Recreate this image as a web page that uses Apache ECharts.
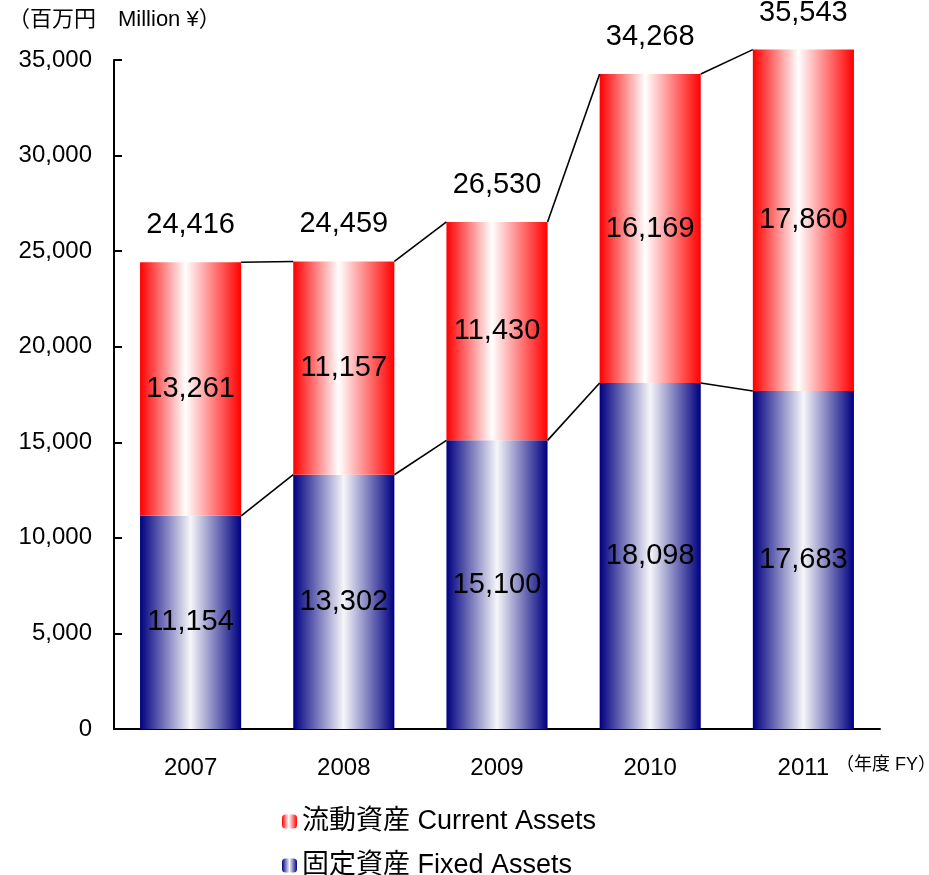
<!DOCTYPE html>
<html>
<head>
<meta charset="utf-8">
<script src="https://cdn.jsdelivr.net/npm/echarts@6/dist/echarts.min.js"></script>
<style>
html,body{margin:0;padding:0;background:#fff;}
#main{width:929px;height:875px;}
</style>
</head>
<body>
<div id="main"></div>
<script>
// data
var years = ['2007', '2008', '2009', '2010', '2011'];
var fixedAssets = [11154, 13302, 15100, 18098, 17683];
var currentAssets = [13261, 11157, 11430, 16169, 17860];
var totals = [24416, 24459, 26530, 34268, 35543];
var yTicks = [0, 5000, 10000, 15000, 20000, 25000, 30000, 35000];

var FONT = '"Liberation Sans", Arial, "Noto Sans CJK JP", sans-serif';
var BAR_RATIO = 0.66;

function fmt(v) {
    return v.toString().replace(/\B(?=(\d{3})+(?!\d))/g, ',');
}

var redFill = new echarts.graphic.LinearGradient(0, 0, 1, 0, [
    { offset: 0, color: '#ff0000' },
    { offset: 0.45, color: '#ffffff' },
    { offset: 1, color: '#ff0000' }
]);
var blueFill = new echarts.graphic.LinearGradient(0, 0, 1, 0, [
    { offset: 0, color: '#000080' },
    { offset: 0.5, color: '#f6f6f9' },
    { offset: 1, color: '#000080' }
]);

var legendText = { fontSize: 27, color: '#000', fontFamily: FONT };

var chart = echarts.init(document.getElementById('main'), null, { renderer: 'canvas' });

chart.setOption({
    animation: false,
    textStyle: { fontFamily: FONT },
    grid: { left: 114, right: 49, top: 60, bottom: 146, containLabel: false },
    legend: [
        {
            left: 277, top: 803, itemWidth: 15, itemHeight: 14,
            data: ['流動資産 Current Assets'], textStyle: legendText
        },
        {
            left: 277, top: 847, itemWidth: 15, itemHeight: 14,
            data: ['固定資産 Fixed Assets'], textStyle: legendText
        }
    ],
    graphic: [
        {
            type: 'text', left: 8, top: 9,
            style: { text: '（百万円　Million ¥）', font: '22px ' + FONT, fill: '#000' }
        },
        {
            type: 'text', left: 836, top: 756,
            style: { text: '（年度 FY）', font: '18px ' + FONT, fill: '#000' }
        }
    ],
    xAxis: {
        type: 'category',
        data: years,
        axisLine: { lineStyle: { color: '#000', width: 2 } },
        axisTick: { inside: true, length: 8, lineStyle: { color: '#000', width: 2 } },
        axisLabel: { color: '#000', fontSize: 24, margin: 27, fontFamily: FONT }
    },
    yAxis: {
        type: 'value',
        min: 0,
        max: 35000,
        interval: 5000,
        splitLine: { show: false },
        axisLine: { show: true, lineStyle: { color: '#000', width: 2 } },
        axisTick: { show: true, inside: true, length: 8, lineStyle: { color: '#000', width: 2 } },
        axisLabel: {
            color: '#000', fontSize: 24, margin: 22, fontFamily: FONT,
            formatter: function (v) { return yTicks.indexOf(v) >= 0 ? fmt(v) : ''; }
        }
    },
    series: [
        {
            name: '固定資産 Fixed Assets',
            type: 'bar',
            stack: 'assets',
            clip: false,
            barWidth: (BAR_RATIO * 100) + '%',
            data: fixedAssets,
            itemStyle: { color: blueFill },
            label: {
                show: true, position: 'inside', color: '#000', fontSize: 29, fontFamily: FONT,
                formatter: function (p) { return fmt(p.value); }
            }
        },
        {
            name: '流動資産 Current Assets',
            type: 'bar',
            stack: 'assets',
            clip: false,
            data: currentAssets,
            itemStyle: { color: redFill },
            label: {
                show: true, position: 'inside', color: '#000', fontSize: 29, fontFamily: FONT,
                formatter: function (p) { return fmt(p.value); }
            }
        },
        {
            // connecting lines + totals
            name: 'totals',
            type: 'custom',
            z: 5,
            clip: false,
            data: years.map(function (y, i) { return [i, totals[i]]; }),
            encode: { x: 0, y: 1 },
            renderItem: function (params, api) {
                var i = params.dataIndex;
                var half = api.size([1, 0])[0] * BAR_RATIO / 2;
                var p = api.coord([i, totals[i]]);
                var children = [{
                    type: 'text',
                    style: {
                        text: fmt(totals[i]), x: p[0], y: p[1] - 37,
                        textAlign: 'center', textVerticalAlign: 'middle',
                        font: '29px ' + FONT, fill: '#000'
                    }
                }];
                if (i < years.length - 1) {
                    var q = api.coord([i + 1, totals[i + 1]]);
                    var f1 = api.coord([i, fixedAssets[i]]);
                    var f2 = api.coord([i + 1, fixedAssets[i + 1]]);
                    children.push({
                        type: 'line',
                        shape: { x1: p[0] + half, y1: p[1], x2: q[0] - half, y2: q[1] },
                        style: { stroke: '#000', lineWidth: 1.6 }
                    });
                    children.push({
                        type: 'line',
                        shape: { x1: f1[0] + half, y1: f1[1], x2: f2[0] - half, y2: f2[1] },
                        style: { stroke: '#000', lineWidth: 1.6 }
                    });
                }
                return { type: 'group', children: children };
            }
        }
    ]
});
</script>
</body>
</html>
